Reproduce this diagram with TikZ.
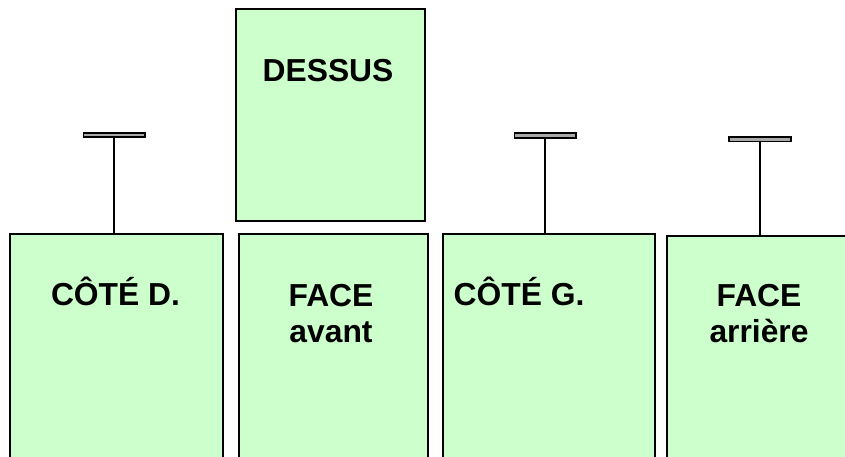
\documentclass[tikz,border=0pt]{standalone}
\usepackage{fontspec}
\setmainfont{Liberation Sans}
\begin{document}
\begin{tikzpicture}[x=1pt,y=-1pt,
  panel/.style={draw=black,line width=2pt,fill=panelgreen,rectangle,inner sep=0pt,anchor=north west},
  tbar/.style={draw=black,line width=1.8pt,fill=bargray,rectangle,inner sep=0pt,minimum height=4.5pt},
  stem/.style={draw=black,line width=2pt},
  lbl/.style={font=\fontsize{31.8}{36.7}\selectfont\bfseries,align=center,inner sep=0pt}]
\definecolor{panelgreen}{RGB}{204,255,204}
\definecolor{bargray}{RGB}{170,170,170}
\useasboundingbox (0,0) rectangle (845,457);
\clip (0,0) rectangle (845,457);
% panels
\node[panel,minimum width=189pt,minimum height=212pt] (dessus) at (235,8) {};
\node[panel,minimum width=212.5pt,minimum height=240pt] (cd) at (9,233) {};
\node[panel,minimum width=189pt,minimum height=240pt] (fa) at (238,233) {};
\node[panel,minimum width=212.5pt,minimum height=240pt] (cg) at (441.5,233) {};
\node[panel,minimum width=200pt,minimum height=240pt] (far) at (666,235) {};
% T bars
\node[tbar,minimum width=61.7pt] (b1) at (114.3,135) {};
\node[tbar,minimum width=61.7pt] (b2) at (545.4,135.5) {};
\node[tbar,minimum width=61.7pt] (b3) at (760.2,139.2) {};
\draw[stem] (b1.south) -- (b1.south |- cd.north);
\draw[stem] (b2.south) -- (b2.south |- cg.north);
\draw[stem] (b3.south) -- (b3.south |- far.north);
% labels
\node[lbl,anchor=base] (tdessus) at (328,81.7) {DESSUS};
\node[lbl,anchor=base] (tcd) at (115.5,305.7) {CÔTÉ D.};
\node[lbl,anchor=base] (tcg) at (519,305.5) {CÔTÉ G.};
\node[lbl] (tfa) at (331,313.5) {FACE\\avant};
\node[lbl] (tfar) at (759,313.5) {FACE\\arrière};
\end{tikzpicture}
\end{document}
